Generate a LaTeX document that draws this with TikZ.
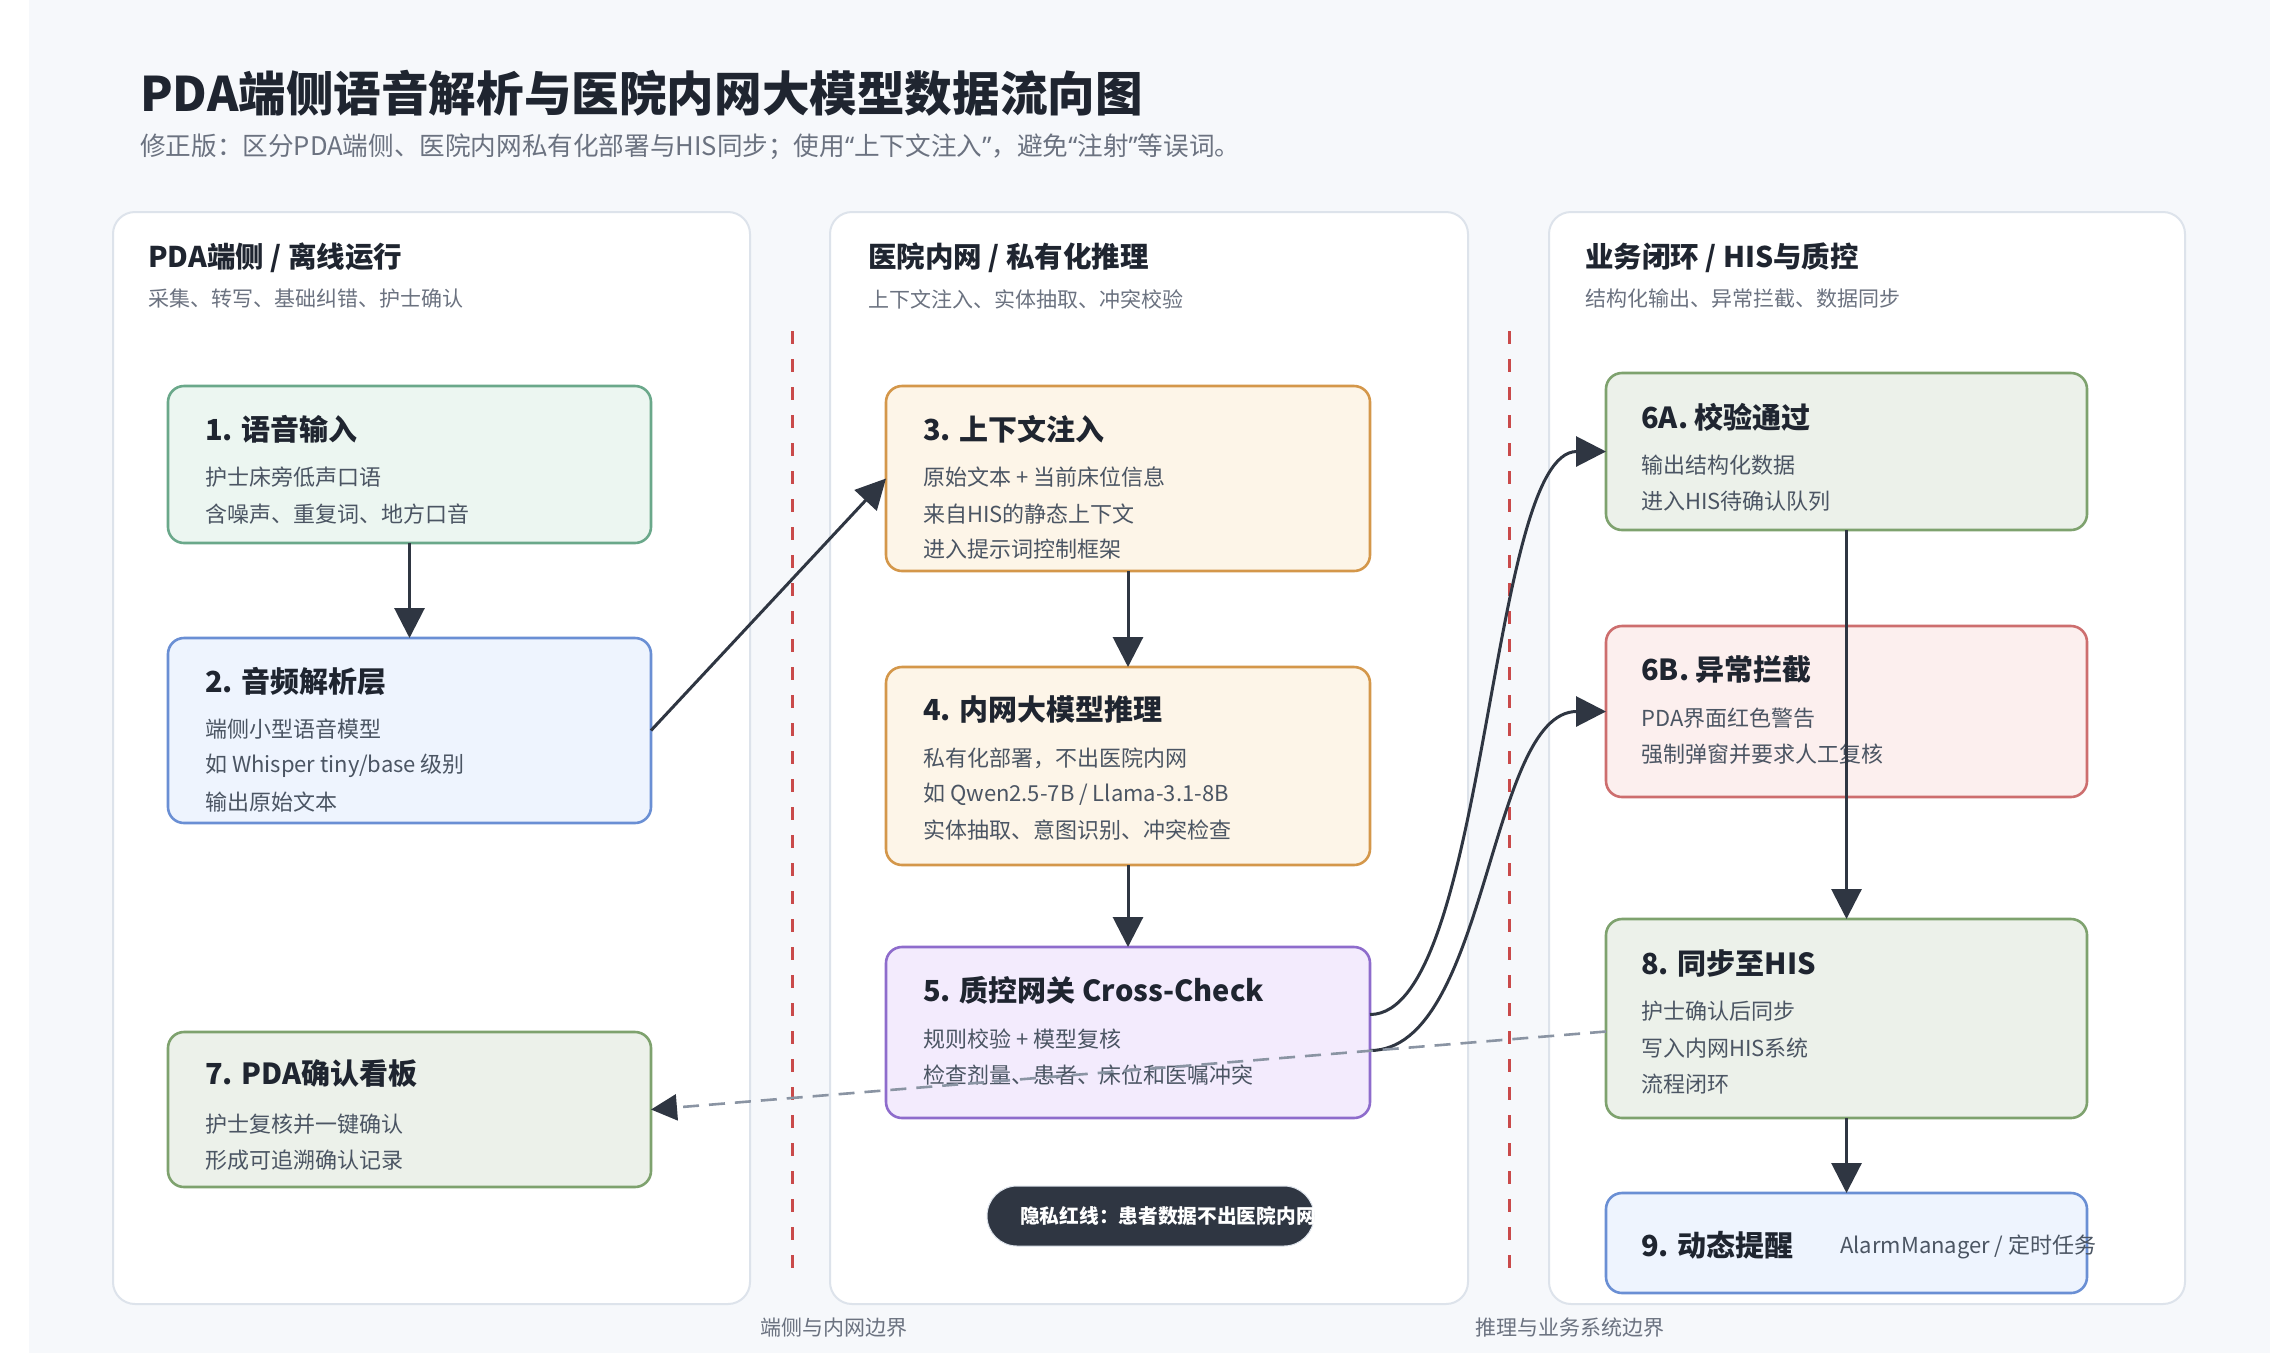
\documentclass[tikz,border=0pt]{standalone}
\usepackage{fontspec}
\setmainfont{Noto Sans CJK SC}
\newfontfamily\qfont{Noto Sans}
\newcommand{\myoq}{{\qfont“}}
\newcommand{\mycq}{{\qfont”}}
\usetikzlibrary{arrows.meta}
\definecolor{bgc}{HTML}{F6F8FB}
\definecolor{panelb}{HTML}{DDE3EB}
\definecolor{titlec}{HTML}{1F2530}
\definecolor{bodyc}{HTML}{4B5563}
\definecolor{subc}{HTML}{6B7280}
\definecolor{arrowc}{HTML}{2F3642}
\definecolor{dashc}{HTML}{8A94A3}
\definecolor{redb}{HTML}{C94A4A}
\definecolor{tealb}{HTML}{6AA88A}\definecolor{tealf}{HTML}{ECF6F1}
\definecolor{blueb}{HTML}{6A8FD4}\definecolor{bluef}{HTML}{EEF4FE}
\definecolor{orab}{HTML}{D4974A}\definecolor{oraf}{HTML}{FDF5E8}
\definecolor{purb}{HTML}{8E6CCC}\definecolor{purf}{HTML}{F3EBFD}
\definecolor{grnb}{HTML}{7EA26E}\definecolor{grnf}{HTML}{ECF1EA}
\definecolor{rosb}{HTML}{CD6E6E}\definecolor{rosf}{HTML}{FCEFEE}
\tikzset{
  panelbox/.style={draw=panelb, fill=white, line width=2pt, rounded corners=22pt, anchor=north west, inner sep=0pt, outer sep=0pt},
  boxbase/.style={line width=2.6pt, rounded corners=16pt, anchor=north west, inner sep=0pt, outer sep=0pt},
  tealbox/.style={boxbase, draw=tealb, fill=tealf},
  bluebox/.style={boxbase, draw=blueb, fill=bluef},
  orabox/.style={boxbase, draw=orab, fill=oraf},
  purbox/.style={boxbase, draw=purb, fill=purf},
  grnbox/.style={boxbase, draw=grnb, fill=grnf},
  rosbox/.style={boxbase, draw=rosb, fill=rosf},
  ttl/.style={anchor=west, inner sep=0pt, font=\fontsize{29}{34}\selectfont\bfseries, text=titlec},
  bod/.style={anchor=west, inner sep=0pt, font=\fontsize{22}{26}\selectfont, text=bodyc},
  phead/.style={anchor=west, inner sep=0pt, font=\fontsize{28.5}{33}\selectfont\bfseries, text=titlec},
  psub/.style={anchor=west, inner sep=0pt, font=\fontsize{21}{25}\selectfont, text=subc},
  blabel/.style={inner sep=0pt, font=\fontsize{21}{25}\selectfont, text=subc},
  conn/.style={draw=arrowc, line width=3pt, -{Triangle[length=30pt,width=30pt]}},
  dconn/.style={draw=dashc, line width=2.6pt, dash pattern=on 16pt off 10pt, -{Triangle[length=26pt,width=26pt,color=arrowc]}},
  bound/.style={draw=redb, line width=3pt, dash pattern=on 13pt off 15pt},
}
\begin{document}
\begin{tikzpicture}[x=1pt,y=-1pt]
\useasboundingbox (0,0) rectangle (2295,1353);
\fill[white] (0,0) rectangle (2295,1353);
\fill[bgc] (29,0) rectangle (2270,1353);

% title
\node[anchor=west, inner sep=0pt, font=\fontsize{47.6}{56}\selectfont\bfseries, text=titlec] (title) at (140,93) {PDA端侧语音解析与医院内网大模型数据流向图};
\node[anchor=west, inner sep=0pt, font=\fontsize{25.6}{30}\selectfont, text=subc] (subtitle) at (140,147) {修正版：区分PDA端侧、医院内网私有化部署与HIS同步；使用\myoq 上下文注入\mycq ，避免\myoq 注射\mycq 等误词。};

% panels
\node[panelbox, minimum width=637pt, minimum height=1092pt] (p1) at (113,212) {};
\node[panelbox, minimum width=638pt, minimum height=1092pt] (p2) at (830,212) {};
\node[panelbox, minimum width=636pt, minimum height=1092pt] (p3) at (1549,212) {};

\node[phead] (p1h) at (148,258) {PDA端侧 / 离线运行};
\node[psub] (p1s) at (148,299) {采集、转写、基础纠错、护士确认};
\node[phead] (p2h) at (868,258) {医院内网 / 私有化推理};
\node[psub] (p2s) at (868,299) {上下文注入、实体抽取、冲突校验};
\node[phead] (p3h) at (1585,258) {业务闭环 / HIS与质控};
\node[psub] (p3s) at (1585,299) {结构化输出、异常拦截、数据同步};

% boundaries
\coordinate (bd1a) at (792,331); \coordinate (bd1b) at (792,1272);
\coordinate (bd2a) at (1509,331); \coordinate (bd2b) at (1509,1272);
\draw[bound] (bd1a) -- (bd1b);
\draw[bound] (bd2a) -- (bd2b);
\node[blabel] (bl1) at (834,1328) {端侧与内网边界};
\node[blabel] (bl2) at (1570,1328) {推理与业务系统边界};

% boxes column 1
\node[tealbox, minimum width=483pt, minimum height=157pt] (b1) at (168,386) {};
\node[ttl] (b1t) at (205,429) {1. 语音输入};
\node[bod] (b1a) at (205,477) {护士床旁低声口语};
\node[bod] (b1b) at (205,514) {含噪声、重复词、地方口音};

\node[bluebox, minimum width=483pt, minimum height=185pt] (b2) at (168,638) {};
\node[ttl] (b2t) at (205,681) {2. 音频解析层};
\node[bod] (b2a) at (205,729) {端侧小型语音模型};
\node[bod] (b2b) at (205,766) {如 Whisper tiny/base 级别};
\node[bod] (b2c) at (205,802) {输出原始文本};

\node[grnbox, minimum width=483pt, minimum height=155pt] (b7) at (168,1032) {};
\node[ttl] (b7t) at (205,1074) {7. PDA确认看板};
\node[bod] (b7a) at (205,1124) {护士复核并一键确认};
\node[bod] (b7b) at (205,1160) {形成可追溯确认记录};

% boxes column 2
\node[orabox, minimum width=484pt, minimum height=185pt] (b3) at (886,386) {};
\node[ttl] (b3t) at (923,429) {3. 上下文注入};
\node[bod] (b3a) at (923,477) {原始文本 + 当前床位信息};
\node[bod] (b3b) at (923,514) {来自HIS的静态上下文};
\node[bod] (b3c) at (923,549) {进入提示词控制框架};

\node[orabox, minimum width=484pt, minimum height=198pt] (b4) at (886,667) {};
\node[ttl] (b4t) at (923,709) {4. 内网大模型推理};
\node[bod] (b4a) at (923,758) {私有化部署，不出医院内网};
\node[bod] (b4b) at (923,794) {如 Qwen2.5-7B / Llama-3.1-8B};
\node[bod] (b4c) at (923,830) {实体抽取、意图识别、冲突检查};

\node[purbox, minimum width=484pt, minimum height=171pt] (b5) at (886,947) {};
\node[ttl] (b5t) at (923,990) {5. 质控网关 Cross-Check};
\node[bod] (b5a) at (923,1039) {规则校验 + 模型复核};
\node[bod] (b5b) at (923,1075) {检查剂量、患者、床位和医嘱冲突};

\node[boxbase, fill=arrowc, draw=panelb, line width=1pt, rounded corners=30pt, minimum width=327pt, minimum height=60pt] (pill) at (987,1186) {};
\node[anchor=west, inner sep=0pt, font=\fontsize{19.7}{23}\selectfont\bfseries, text=white] (pillt) at (1020,1216) {隐私红线：患者数据不出医院内网};

% boxes column 3
\node[grnbox, minimum width=481pt, minimum height=157pt] (b6a) at (1606,373) {};
\node[ttl] (b6at) at (1641,417) {6A. 校验通过};
\node[bod] (b6aa) at (1641,465) {输出结构化数据};
\node[bod] (b6ab) at (1641,501) {进入HIS待确认队列};

\node[rosbox, minimum width=481pt, minimum height=171pt] (b6b) at (1606,626) {};
\node[ttl] (b6bt) at (1641,669) {6B. 异常拦截};
\node[bod] (b6ba) at (1641,718) {PDA界面红色警告};
\node[bod] (b6bb) at (1641,754) {强制弹窗并要求人工复核};

\node[grnbox, minimum width=481pt, minimum height=199pt] (b8) at (1606,919) {};
\node[ttl] (b8t) at (1641,963) {8. 同步至HIS};
\node[bod] (b8a) at (1641,1011) {护士确认后同步};
\node[bod] (b8b) at (1641,1048) {写入内网HIS系统};
\node[bod] (b8c) at (1641,1084) {流程闭环};

\node[bluebox, minimum width=481pt, minimum height=100pt] (b9) at (1606,1193) {};
\node[ttl] (b9t) at (1641,1245) {9. 动态提醒};
\node[bod] (b9a) at (1840,1247) {AlarmManager / 定时任务};

% connectors
\draw[conn] (b1.south) -- (b2.north);
\draw[conn] (b2.east) -- (b3.west);
\draw[conn] (b3.south) -- (b4.north);
\draw[conn] (b4.south) -- (b5.north);
\draw[conn] ([yshift=18pt]b5.east) .. controls +(118,0) and +(-118,0) .. (b6a.west);
\draw[conn] ([yshift=-18pt]b5.east) .. controls +(118,0) and +(-118,0) .. (b6b.west);
\draw[conn] (b6a.south) -- (b8.north);
\draw[conn] (b8.south) -- (b9.north);
\draw[dconn] ([yshift=-13pt]b8.west) -- (b7.east);
\end{tikzpicture}
\end{document}
